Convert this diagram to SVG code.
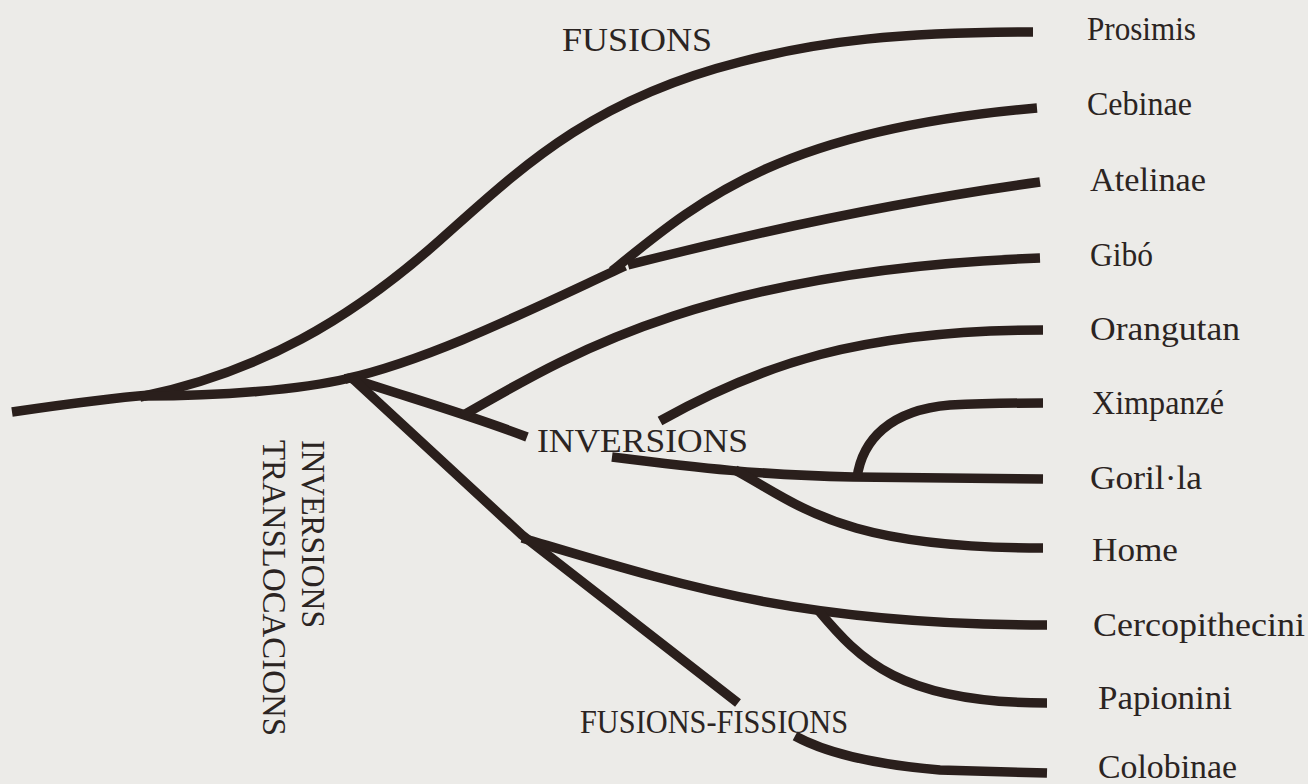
<svg xmlns="http://www.w3.org/2000/svg" width="1308" height="784" viewBox="0 0 1308 784">
<style>
.br{fill:none;stroke:#2a1f1c;stroke-width:9.5;stroke-linecap:butt;stroke-linejoin:round}
.lb{font-family:"Liberation Serif","DejaVu Serif",serif;font-size:33px;fill:#2b2422}
.ev{font-family:"Liberation Serif","DejaVu Serif",serif;font-size:34px;fill:#2b2422}
</style>
<rect width="1308" height="784" fill="#ecebe8"/>
<g id="connectors">
<path class="br" d="M12,412 C60,405 110,398 150,395"/>
<path class="br" d="M140,397 C260,372 350,320 440,240 C520,169 590,100 740,62 C820,41 900,32 1033,32"/>
<path class="br" d="M145,396 C220,396 300,390 350,378"/>
<path class="br" d="M345,379 C430,360 530,310 625,266"/>
<path class="br" d="M612,271 C700,200 780,130 1037,108"/>
<path class="br" d="M628,265 Q850,208 1040,182"/>
<path class="br" d="M350,378 C410,398 470,415 527,437"/>
<path class="br" d="M462,416 C560,360 700,270 1040,258"/>
<path class="br" d="M660,421 C760,365 860,330 1043,330"/>
<path class="br" d="M612,457 C700,468 760,475 853,477 L1043,479"/>
<path class="br" d="M857,478 C862,440 890,410 950,405 C990,403 1020,403 1043,403"/>
<path class="br" d="M735,470 C800,505 840,548 1043,548"/>
<path class="br" d="M352,378 L522,535 L738,703"/>
<path class="br" d="M522,538 C680,585 800,625 1047,625"/>
<path class="br" d="M818,610 C860,660 900,703 1047,703"/>
<path class="br" d="M795,736 C830,755 880,765 940,770 L1047,773"/>
</g>
<g id="event-fusions"><text class="ev" x="562" y="51" textLength="150" lengthAdjust="spacingAndGlyphs">FUSIONS</text></g>
<g id="event-inversions"><text class="ev" x="537" y="452" textLength="211" lengthAdjust="spacingAndGlyphs">INVERSIONS</text></g>
<g id="event-fusions-fissions"><text class="ev" x="580" y="733" textLength="268" lengthAdjust="spacingAndGlyphs">FUSIONS-FISSIONS</text></g>
<g id="event-inversions-vertical"><text class="ev" transform="translate(302,440) rotate(90)" textLength="188" lengthAdjust="spacingAndGlyphs">INVERSIONS</text></g>
<g id="event-translocacions"><text class="ev" transform="translate(263,440) rotate(90)" textLength="296" lengthAdjust="spacingAndGlyphs">TRANSLOCACIONS</text></g>
<g id="node-prosimis"><text class="lb" x="1087" y="40" textLength="109" lengthAdjust="spacingAndGlyphs">Prosimis</text></g>
<g id="node-cebinae"><text class="lb" x="1087" y="115" textLength="105" lengthAdjust="spacingAndGlyphs">Cebinae</text></g>
<g id="node-atelinae"><text class="lb" x="1090" y="191" textLength="116" lengthAdjust="spacingAndGlyphs">Atelinae</text></g>
<g id="node-gibo"><text class="lb" x="1090" y="266" textLength="63" lengthAdjust="spacingAndGlyphs">Gibó</text></g>
<g id="node-orangutan"><text class="lb" x="1090" y="340" textLength="150" lengthAdjust="spacingAndGlyphs">Orangutan</text></g>
<g id="node-ximpanze"><text class="lb" x="1092" y="414" textLength="132" lengthAdjust="spacingAndGlyphs">Ximpanzé</text></g>
<g id="node-gorilla"><text class="lb" x="1090" y="489" textLength="112" lengthAdjust="spacingAndGlyphs">Goril·la</text></g>
<g id="node-home"><text class="lb" x="1092" y="561" textLength="86" lengthAdjust="spacingAndGlyphs">Home</text></g>
<g id="node-cercopithecini"><text class="lb" x="1093" y="636" textLength="212" lengthAdjust="spacingAndGlyphs">Cercopithecini</text></g>
<g id="node-papionini"><text class="lb" x="1098" y="709" textLength="134" lengthAdjust="spacingAndGlyphs">Papionini</text></g>
<g id="node-colobinae"><text class="lb" x="1098" y="778" textLength="139" lengthAdjust="spacingAndGlyphs">Colobinae</text></g>
</svg>
